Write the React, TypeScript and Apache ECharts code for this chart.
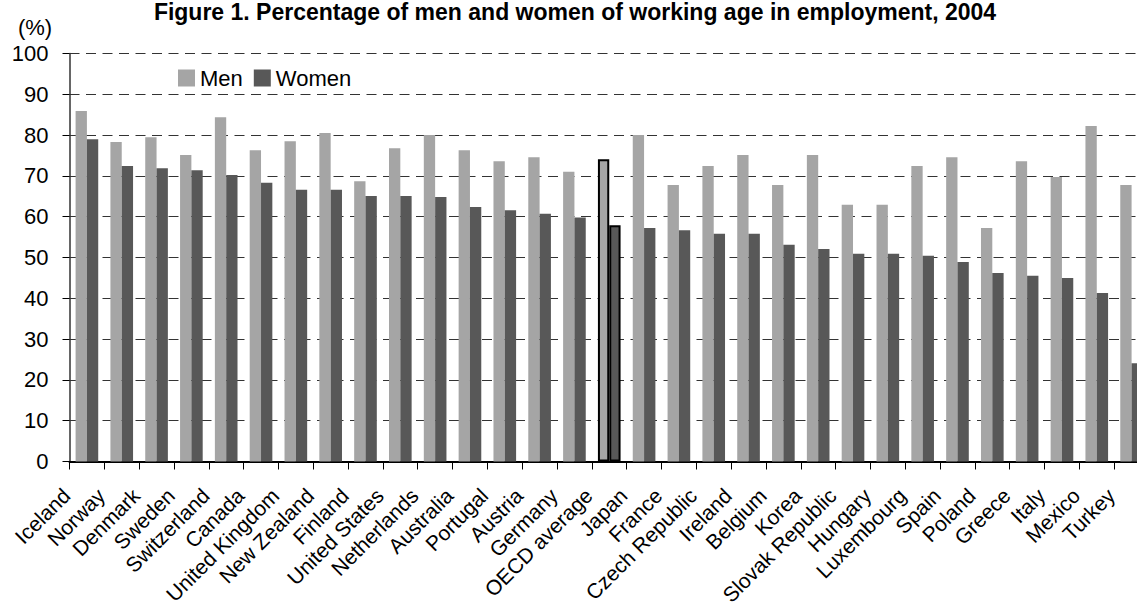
import React, { useEffect, useRef } from "react";
import * as echarts from "echarts";

const countries = [
  "Iceland", "Norway", "Denmark", "Sweden", "Switzerland", "Canada", "United Kingdom",
  "New Zealand", "Finland", "United States", "Netherlands", "Australia", "Portugal",
  "Austria", "Germany", "OECD average", "Japan", "France", "Czech Republic", "Ireland",
  "Belgium", "Korea", "Slovak Republic", "Hungary", "Luxembourg", "Spain", "Poland",
  "Greece", "Italy", "Mexico", "Turkey",
];

const men = [
  85.9, 78.3, 79.5, 75.1, 84.4, 76.3, 78.5, 80.5, 68.7, 76.8, 80.0, 76.3, 73.6, 74.6,
  71.0, 74.1, 80.0, 67.8, 72.4, 75.1, 67.8, 75.1, 62.9, 62.9, 72.4, 74.6, 57.2, 73.6,
  69.7, 82.2, 67.8,
];

const women = [
  79.0, 72.4, 71.9, 71.4, 70.2, 68.3, 66.6, 66.6, 65.1, 65.1, 64.8, 62.4, 61.6, 60.7,
  59.8, 57.9, 57.2, 56.7, 55.8, 55.8, 53.1, 52.1, 50.9, 50.9, 50.4, 48.9, 46.2, 45.5,
  45.0, 41.3, 24.1,
];

const yTicks = { min: 0, max: 100, interval: 10 };
const highlight = "OECD average";
const titleText = "Figure 1. Percentage of men and women of working age in employment, 2004";
const unitText = "(%)";

const FONT = "'Liberation Sans', Arial, sans-serif";

export default function App() {
  const ref = useRef<HTMLDivElement>(null);

  useEffect(() => {
    if (!ref.current) return;
    const chart = echarts.init(ref.current, null, { renderer: "svg" });

    const mkData = (vals: number[]) =>
      vals.map((v, i) =>
        countries[i] === highlight
          ? { value: v, itemStyle: { borderColor: "#000", borderWidth: 2 } }
          : v
      );

    chart.setOption({
      animation: false,
      backgroundColor: "#fff",
      textStyle: { fontFamily: FONT },
      graphic: [
        {
          type: "text",
          x: 575,
          y: 12,
          style: {
            text: titleText,
            font: `bold 23px ${FONT}`,
            fill: "#000",
            textAlign: "center",
            textVerticalAlign: "middle",
          },
        },
        {
          type: "text",
          x: 35,
          y: 27,
          style: {
            text: unitText,
            font: `22px ${FONT}`,
            fill: "#000",
            textAlign: "center",
            textVerticalAlign: "middle",
          },
        },
      ],
      legend: {
        left: 178,
        top: 67,
        itemWidth: 17,
        itemHeight: 17,
        itemGap: 11,
        padding: 0,
        icon: "rect",
        textStyle: { fontSize: 22, color: "#000", fontFamily: FONT },
        data: ["Men", "Women"],
      },
      grid: {
        left: 69.5,
        top: 53.5,
        bottom: 146.5,
        right: -12,
        containLabel: false,
        outerBoundsMode: "none",
      },
      xAxis: {
        type: "category",
        data: countries,
        boundaryGap: true,
        axisLine: { lineStyle: { color: "#000", width: 2 } },
        axisTick: { show: true, length: 8, alignWithLabel: false, lineStyle: { color: "#000" } },
        axisLabel: {
          interval: 0,
          rotate: 45,
          fontSize: 21,
          color: "#000",
          fontFamily: FONT,
          margin: 10,
          padding: [0, 29, 0, 0],
        },
      },
      yAxis: {
        type: "value",
        min: yTicks.min,
        max: yTicks.max,
        interval: yTicks.interval,
        axisLine: { show: true, lineStyle: { color: "#333", width: 1.5 } },
        axisTick: { show: true, length: 7, lineStyle: { color: "#000" } },
        axisLabel: { fontSize: 22, color: "#000", fontFamily: FONT, margin: 21 },
        splitLine: { show: true, lineStyle: { color: "#333", type: [10, 6.5], width: 1 } },
      },
      series: [
        {
          name: "Men",
          type: "bar",
          data: mkData(men),
          itemStyle: { color: "#a5a5a5" },
          barGap: "0%",
          barCategoryGap: "35%",
        },
        {
          name: "Women",
          type: "bar",
          data: mkData(women),
          itemStyle: { color: "#585858" },
          barGap: "0%",
          barCategoryGap: "35%",
        },
      ],
    });

    return () => chart.dispose();
  }, []);

  return (
    <div style={{ position: "fixed", left: 0, top: 0, width: 1137, height: 608, overflow: "hidden", background: "#fff" }}>
      <div ref={ref} style={{ width: 1137, height: 608 }} />
    </div>
  );
}
